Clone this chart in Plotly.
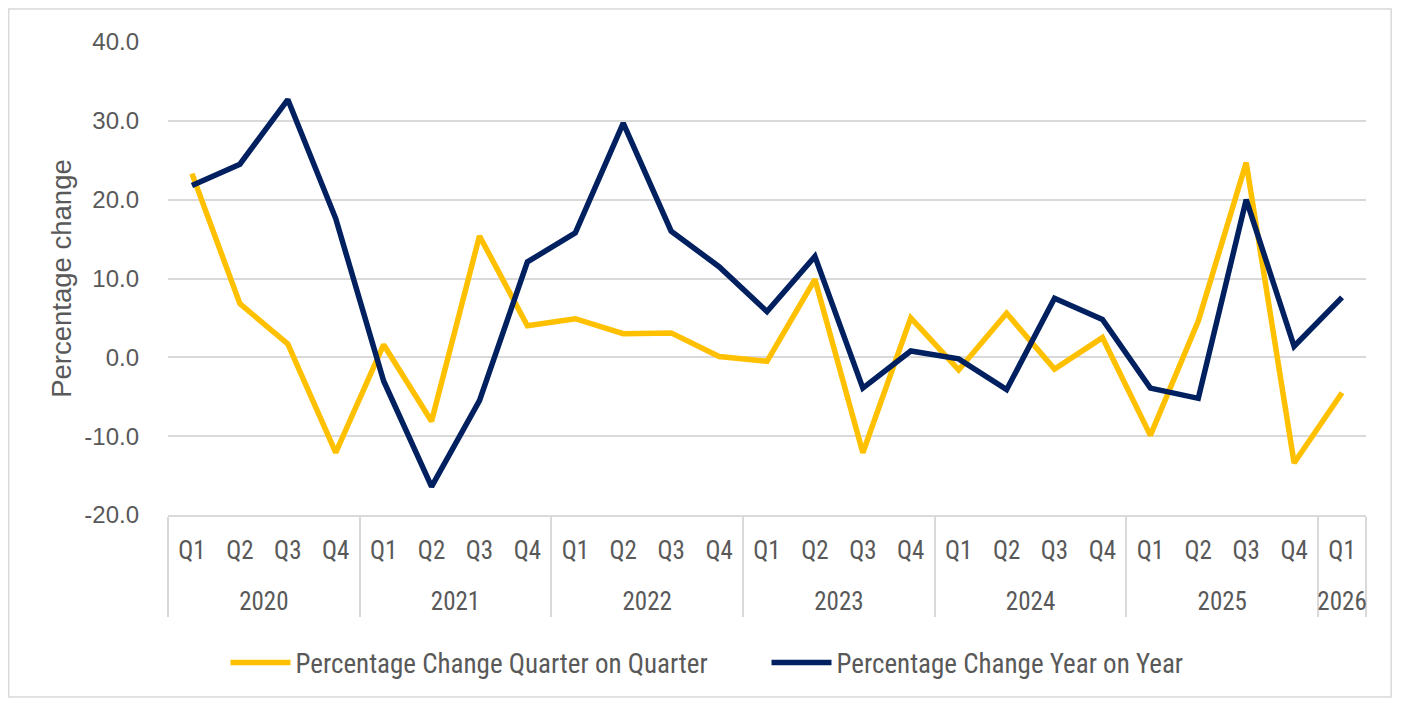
import plotly.graph_objects as go

# Quarterly data, 2020 Q1 to 2026 Q1
YEARS = ['2020'] * 4 + ['2021'] * 4 + ['2022'] * 4 + ['2023'] * 4 + ['2024'] * 4 + ['2025'] * 4 + ['2026']
QUARTERS = ['Q1', 'Q2', 'Q3', 'Q4'] * 6 + ['Q1']

QOQ = [23.3, 6.8, 1.7, -12.1, 1.6, -8.1, 15.4, 4.0, 4.9, 3.0, 3.1, 0.1,
       -0.5, 9.9, -12.1, 5.0, -1.6, 5.6, -1.5, 2.5, -9.9, 4.6, 24.7, -13.4, -4.5]
YOY = [21.8, 24.5, 32.7, 17.6, -3.0, -16.4, -5.5, 12.1, 15.8, 29.7, 16.0, 11.5,
       5.8, 12.8, -3.9, 0.8, -0.2, -4.1, 7.5, 4.8, -3.9, -5.2, 20.0, 1.4, 7.6]

Y_TICKS = [-20, -10, 0, 10, 20, 30, 40]
Y_LABELS = ['-20.0', '-10.0', '0.0', '10.0', '20.0', '30.0', '40.0']

COLORS = {
    'qoq': '#FFC000',
    'yoy': '#002060',
    'grid': '#D9D9D9',
    'text': '#595959',
}

NARROW = 'Liberation Sans Narrow, Arial Narrow, Roboto Condensed, Liberation Sans, sans-serif'
REGULAR = 'Liberation Sans, Arial, sans-serif'

# year labels pushed one line down so they sit below the quarter row
year_labels = ['<br>' + y for y in YEARS]

fig = go.Figure()

fig.add_trace(go.Scatter(
    x=[year_labels, QUARTERS],
    y=QOQ,
    name='Percentage Change Quarter on Quarter',
    mode='lines',
    line=dict(color=COLORS['qoq'], width=5.5),
))

fig.add_trace(go.Scatter(
    x=[year_labels, QUARTERS],
    y=YOY,
    name='Percentage Change Year on Year',
    mode='lines',
    line=dict(color=COLORS['yoy'], width=5.5),
))

fig.update_layout(
    width=1394,
    height=699,
    margin=dict(l=160, r=36, t=34, b=192),
    plot_bgcolor='white',
    paper_bgcolor='white',
    font=dict(family=NARROW, color=COLORS['text'], size=22),
    showlegend=True,
    legend=dict(
        orientation='h',
        x=0.048,
        xanchor='left',
        y=-0.313,
        yanchor='middle',
        font=dict(family=NARROW, size=27, color=COLORS['text']),
        itemwidth=60,
        entrywidth=466,
    ),
    xaxis=dict(
        type='multicategory',
        range=[-0.5, 24.5],
        showgrid=False,
        showline=True,
        linecolor=COLORS['grid'],
        linewidth=1.5,
        showdividers=True,
        dividercolor=COLORS['grid'],
        dividerwidth=1.5,
        ticks='',
        ticklabelstandoff=12,
        tickfont=dict(family=NARROW, size=25, color=COLORS['text']),
    ),
    yaxis=dict(
        range=[-20, 40],
        tickvals=Y_TICKS,
        ticktext=Y_LABELS,
        showgrid=True,
        gridcolor=COLORS['grid'],
        gridwidth=1.5,
        zeroline=False,
        showline=False,
        ticks='',
        ticklabelstandoff=28,
        tickfont=dict(family=REGULAR, size=24, color=COLORS['text']),
        title=dict(
            text='Percentage change',
            font=dict(family=REGULAR, size=27.5, color=COLORS['text']),
            standoff=4,
        ),
    ),
)

# Light border around the whole chart
fig.add_shape(
    type='rect',
    xref='paper', yref='paper',
    x0=-0.133, x1=1.021, y0=-0.385, y1=1.07,
    line=dict(color=COLORS['grid'], width=1.5),
    layer='below',
)

fig.write_html('out.html')
